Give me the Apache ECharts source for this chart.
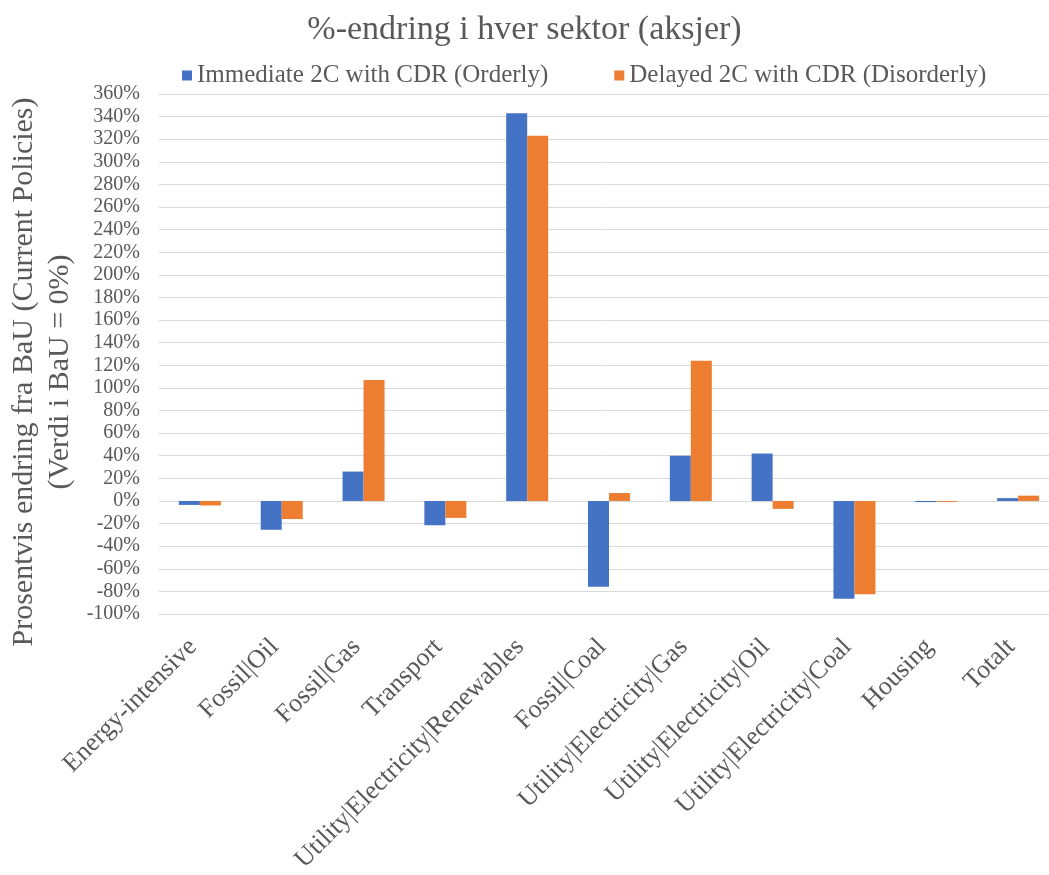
<!DOCTYPE html>
<html>
<head>
<meta charset="utf-8">
<script src="https://cdn.jsdelivr.net/npm/echarts@6/dist/echarts.min.js"></script>
<style>html,body{margin:0;padding:0;background:#fff}#c{width:1049px;height:875px}</style>
</head>
<body>
<div id="c"></div>
<script>
const categories = ['Energy-intensive','Fossil|Oil','Fossil|Gas','Transport','Utility|Electricity|Renewables','Fossil|Coal','Utility|Electricity|Gas','Utility|Electricity|Oil','Utility|Electricity|Coal','Housing','Totalt'];
const orderly = [-3.5, -25.5, 26, -21.5, 343, -76, 40, 42, -86.5, -1, 2.5];
const disorderly = [-4, -16, 107, -15, 323, 7, 124, -7, -82.5, -0.8, 4.7];
const seriesNames = ['Immediate 2C with CDR (Orderly)', 'Delayed 2C with CDR (Disorderly)'];
const titleText = '%-endring i hver sektor (aksjer)';
const yNameLines = ['Prosentvis endring fra BaU (Current Policies)', '(Verdi i BaU = 0%)'];

const font = 'Liberation Serif';
const txt = '#595959';
const chart = echarts.init(document.getElementById('c'), null, {renderer: 'canvas'});
chart.setOption({
  animation: false,
  backgroundColor: '#fff',
  textStyle: {fontFamily: font, color: txt},
  title: {
    text: titleText, left: 'center', top: 8,
    textStyle: {fontFamily: font, fontSize: 34, fontWeight: 'normal', color: txt}
  },
  legend: {
    top: 58, left: 177, itemWidth: 10, itemHeight: 10, itemGap: 66,
    icon: 'rect',
    textStyle: {fontFamily: font, fontSize: 25, color: txt},
    data: seriesNames
  },
  grid: {left: 159, right: -10, top: 94, bottom: 261, containLabel: false, outerBoundsMode: 'none'},
  graphic: [{
    type: 'text', x: 42, y: 372, rotation: Math.PI / 2,
    style: {
      text: yNameLines.join('\n'), fontFamily: font, fontSize: 30, fill: txt,
      lineHeight: 36, align: 'center', verticalAlign: 'middle',
      textAlign: 'center', textVerticalAlign: 'middle'
    }
  }],
  xAxis: {
    type: 'category', data: categories,
    axisLine: {show: false, onZero: false},
    axisTick: {show: false},
    axisLabel: {rotate: 45, interval: 0, margin: 22, padding: [0, 10, 0, 0], fontFamily: font, fontSize: 26, color: txt}
  },
  yAxis: {
    type: 'value', min: -100, max: 360, interval: 20,
    axisLine: {show: false}, axisTick: {show: false},
    axisLabel: {formatter: '{value}%', margin: 19, fontFamily: font, fontSize: 20, color: txt},
    splitLine: {lineStyle: {color: '#d9d9d9', width: 1}}
  },
  series: [
    {name: seriesNames[0], type: 'bar', data: orderly, barWidth: 21, barGap: '0%', itemStyle: {color: '#4472C4'}},
    {name: seriesNames[1], type: 'bar', data: disorderly, barWidth: 21, barGap: '0%', itemStyle: {color: '#ED7D31'}}
  ]
});
</script>
</body>
</html>
